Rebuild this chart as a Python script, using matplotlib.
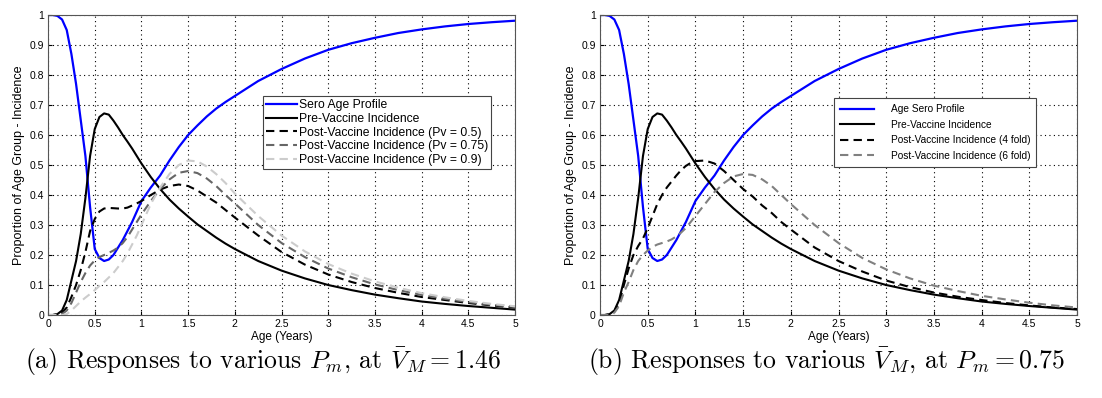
import matplotlib
matplotlib.use("Agg")
import matplotlib.pyplot as plt

plt.rcParams['font.family'] = ['Liberation Sans', 'DejaVu Sans']
plt.rcParams['mathtext.fontset'] = 'cm'

# ages (years) at which the curves were read
age = [0, 0.05, 0.1, 0.15, 0.2, 0.25, 0.3, 0.35, 0.4, 0.45, 0.5, 0.55, 0.6, 0.65, 0.7, 0.75, 0.8, 0.85, 0.9, 0.95, 1.0,
       1.1, 1.2, 1.3, 1.4, 1.5, 1.6, 1.7, 1.8, 1.9, 2.0,
       2.25, 2.5, 2.75, 3.0, 3.25, 3.5, 3.75, 4.0, 4.25, 4.5, 4.75, 5.0]

sero = [1.0, 1.0, 0.997, 0.985, 0.95, 0.87, 0.77, 0.65, 0.53, 0.36, 0.22, 0.19, 0.18, 0.185, 0.2, 0.225, 0.25, 0.28, 0.31, 0.345, 0.38,
        0.425, 0.465, 0.515, 0.56, 0.6, 0.632, 0.662, 0.688, 0.71, 0.73,
        0.78, 0.82, 0.855, 0.884, 0.906, 0.924, 0.94, 0.952, 0.962, 0.97, 0.976, 0.981]
pre_vacc = [0, 0, 0.003, 0.015, 0.05, 0.115, 0.18, 0.27, 0.39, 0.53, 0.62, 0.66, 0.672, 0.668, 0.648, 0.625, 0.6, 0.578, 0.555, 0.53, 0.505,
            0.46, 0.42, 0.385, 0.355, 0.328, 0.302, 0.28, 0.258, 0.238, 0.22,
            0.18, 0.148, 0.122, 0.1, 0.083, 0.068, 0.056, 0.045, 0.037, 0.03, 0.024, 0.018]

# panel (a): different Pv
pv_05 = [0, 0, 0.002, 0.008, 0.025, 0.06, 0.1, 0.15, 0.21, 0.28, 0.32, 0.345, 0.355, 0.357, 0.356, 0.355, 0.355, 0.358, 0.365, 0.372, 0.38,
         0.4, 0.418, 0.43, 0.435, 0.43, 0.415, 0.395, 0.375, 0.35, 0.325,
         0.265, 0.21, 0.168, 0.135, 0.11, 0.09, 0.074, 0.06, 0.05, 0.04, 0.032, 0.025]
pv_075 = [0, 0, 0, 0.003, 0.015, 0.04, 0.075, 0.11, 0.14, 0.165, 0.182, 0.193, 0.2, 0.207, 0.215, 0.225, 0.24, 0.26, 0.285, 0.31, 0.335,
          0.38, 0.42, 0.452, 0.474, 0.48, 0.473, 0.455, 0.43, 0.4, 0.372,
          0.3, 0.24, 0.193, 0.155, 0.126, 0.102, 0.083, 0.067, 0.054, 0.043, 0.034, 0.027]
pv_09 = [0, 0, 0, 0, 0.003, 0.015, 0.03, 0.045, 0.058, 0.07, 0.083, 0.097, 0.11, 0.125, 0.14, 0.16, 0.18, 0.205, 0.235, 0.265, 0.3,
         0.37, 0.425, 0.47, 0.5, 0.515, 0.512, 0.495, 0.47, 0.44, 0.405,
         0.33, 0.265, 0.212, 0.17, 0.138, 0.112, 0.091, 0.073, 0.059, 0.047, 0.037, 0.029]

# panel (b): different fold increase
fold_4 = [0, 0, 0.002, 0.012, 0.04, 0.1, 0.155, 0.2, 0.23, 0.255, 0.29, 0.33, 0.37, 0.4, 0.425, 0.445, 0.465, 0.483, 0.497, 0.507, 0.513,
          0.515, 0.505, 0.48, 0.45, 0.42, 0.395, 0.365, 0.34, 0.31, 0.285,
          0.225, 0.18, 0.145, 0.115, 0.093, 0.075, 0.061, 0.05, 0.04, 0.032, 0.025, 0.02]
fold_6 = [0, 0, 0, 0.008, 0.03, 0.075, 0.11, 0.15, 0.18, 0.2, 0.215, 0.227, 0.235, 0.24, 0.245, 0.252, 0.262, 0.275, 0.29, 0.31, 0.33,
          0.37, 0.41, 0.44, 0.462, 0.47, 0.467, 0.452, 0.43, 0.4, 0.37,
          0.3, 0.24, 0.19, 0.152, 0.122, 0.098, 0.08, 0.064, 0.052, 0.041, 0.032, 0.025]

xticks = [0, 0.5, 1, 1.5, 2, 2.5, 3, 3.5, 4, 4.5, 5]
xticklabels = ['0', '0.5', '1', '1.5', '2', '2.5', '3', '3.5', '4', '4.5', '5']
yticks = [0, 0.1, 0.2, 0.3, 0.4, 0.5, 0.6, 0.7, 0.8, 0.9, 1]
yticklabels = ['0', '0.1', '0.2', '0.3', '0.4', '0.5', '0.6', '0.7', '0.8', '0.9', '1']

fig = plt.figure(figsize=(11.02, 3.98), dpi=100)
ax1 = fig.add_axes([0.0436, 0.2085, 0.4238, 0.7538])
ax2 = fig.add_axes([0.5445, 0.2085, 0.4328, 0.7538])


def style(ax):
    ax.set_xlim(0, 5)
    ax.set_ylim(0, 1)
    ax.set_xticks(xticks)
    ax.set_xticklabels(xticklabels)
    ax.set_yticks(yticks)
    ax.set_yticklabels(yticklabels)
    ax.tick_params(labelsize=7.5, direction='in', length=3, pad=3)
    ax.grid(True, linestyle=(0, (1, 3)), color='black', linewidth=0.8)
    for s in ax.spines.values():
        s.set_color('#555555')
        s.set_linewidth(0.8)
    ax.set_xlabel('Age (Years)', fontsize=8.5, labelpad=1)
    ax.set_ylabel('Proportion of Age Group - Incidence', fontsize=9, labelpad=3)


dash = (0, (4, 2.5))
ax1.plot(age, sero, color='#0000ff', lw=1.6, label='Sero Age Profile')
ax1.plot(age, pre_vacc, color='black', lw=1.5, label='Pre-Vaccine Incidence')
ax1.plot(age, pv_05, color='black', lw=1.5, ls=dash, label='Post-Vaccine Incidence (Pv = 0.5)')
ax1.plot(age, pv_075, color='#666666', lw=1.5, ls=dash, label='Post-Vaccine Incidence (Pv = 0.75)')
ax1.plot(age, pv_09, color='#cccccc', lw=1.5, ls=dash, label='Post-Vaccine Incidence (Pv = 0.9)')
style(ax1)
leg1 = ax1.legend(loc='upper left', bbox_to_anchor=(0.46, 0.73), fontsize=8.7, fancybox=False,
                  framealpha=1, edgecolor='#444444', handlelength=2.6, handletextpad=0.1,
                  borderpad=0.25, labelspacing=0.15, borderaxespad=0)
leg1.get_frame().set_linewidth(0.8)

ax2.plot(age, sero, color='#0000ff', lw=1.6, label='Age Sero Profile')
ax2.plot(age, pre_vacc, color='black', lw=1.5, label='Pre-Vaccine Incidence')
ax2.plot(age, fold_4, color='black', lw=1.5, ls=dash, label='Post-Vaccine Incidence (4 fold)')
ax2.plot(age, fold_6, color='#808080', lw=1.5, ls=dash, label='Post-Vaccine Incidence (6 fold)')
style(ax2)
leg2 = ax2.legend(loc='upper left', bbox_to_anchor=(0.49, 0.723), fontsize=7.3, fancybox=False,
                  framealpha=1, edgecolor='#444444', handlelength=3.4, handletextpad=1.6,
                  borderpad=0.6, labelspacing=0.55, borderaxespad=0)
leg2.get_frame().set_linewidth(0.8)

fig.text(0.239, 0.09, r'(a) Responses to various $P_m$, at $\bar{V}_M = 1.46$',
         ha='center', va='center', fontsize=18.5, family='cmr10')
fig.text(0.75, 0.09, r'(b) Responses to various $\bar{V}_M$, at $P_m = 0.75$',
         ha='center', va='center', fontsize=18.5, family='cmr10')

fig.savefig('out.png', dpi=100)
